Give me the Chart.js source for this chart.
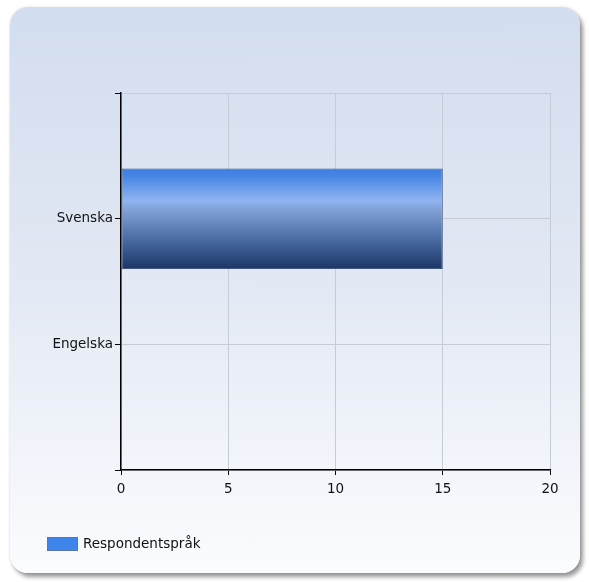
<!DOCTYPE html>
<html>
<head>
<meta charset="utf-8">
<script src="https://cdn.jsdelivr.net/npm/chart.js@4/dist/chart.umd.min.js"></script>
<style>
  html, body { margin: 0; padding: 0; background: #fff; }
  #wrap { position: relative; width: 589px; height: 582px; overflow: hidden; }
  #panel {
    position: absolute; left: 10px; top: 7px; width: 570px; height: 566px;
    border-radius: 18px;
    background: linear-gradient(to bottom, #d2ddef 0%, #e3e9f4 50%, #fbfcfe 100%);
    box-shadow: 3px 4px 4px rgba(0, 0, 0, 0.4), 0 0 3px rgba(0, 0, 0, 0.12);
  }
  canvas { position: absolute; left: 0; top: 0; }
</style>
</head>
<body>
<div id="wrap">
  <div id="panel"></div>
  <canvas id="c" width="589" height="582"></canvas>
</div>
<script>
const categories = ["Svenska", "Engelska"];
const values = [15, 0];
const seriesLabel = "Respondentspråk";
const xTicks = [0, 5, 10, 15, 20];

const FONT = "'DejaVu Sans', Verdana, sans-serif";
const FONT_SIZE = 13.5;
const BAR_PCT = 0.8;

// empty slots above and below so the two categories sit on the inner ticks
const labels = ["", ...categories, ""];
const data = [null, ...values, null];

function barGradient(c) {
  const chart = c.chart;
  const ys = chart.scales.y;
  if (!chart.chartArea || !ys) return "#3d80e2";
  const step = ys.getPixelForValue(1) - ys.getPixelForValue(0);
  const mid = ys.getPixelForValue(c.dataIndex);
  const half = step * BAR_PCT / 2;
  const g = chart.ctx.createLinearGradient(0, mid - half, 0, mid + half);
  g.addColorStop(0, "#3a7ddf");
  g.addColorStop(0.08, "#4886e5");
  g.addColorStop(0.32, "#8fb4ef");
  g.addColorStop(0.42, "#7f9fd5");
  g.addColorStop(0.7, "#4b6ca4");
  g.addColorStop(1, "#1b3666");
  return g;
}

const legendPlugin = {
  id: "boxLegend",
  afterDraw(chart) {
    const ctx = chart.ctx;
    const ds = chart.data.datasets[0];
    ctx.save();
    ctx.fillStyle = "#3d85ea";
    ctx.fillRect(47.5, 537.5, 30, 13);
    ctx.strokeStyle = "#5878ad";
    ctx.lineWidth = 1;
    ctx.strokeRect(47.5, 537.5, 30, 13);
    ctx.fillStyle = "#111";
    ctx.font = FONT_SIZE + "px " + FONT;
    ctx.textBaseline = "middle";
    ctx.fillText(ds.label, 83, 544);
    ctx.restore();
  }
};

new Chart(document.getElementById("c"), {
  type: "bar",
  data: {
    labels,
    datasets: [{
      label: seriesLabel,
      data,
      backgroundColor: barGradient,
      borderColor: "rgba(35, 60, 105, 0.85)",
      borderWidth: 1,
      borderSkipped: false,
      categoryPercentage: BAR_PCT,
      barPercentage: 1
    }]
  },
  options: {
    indexAxis: "y",
    responsive: false,
    animation: false,
    events: [],
    layout: { padding: { left: 0, top: 93, right: 39, bottom: 0 } },
    plugins: { legend: { display: false }, tooltip: { enabled: false } },
    scales: {
      x: {
        type: "linear",
        min: 0,
        max: 20,
        afterBuildTicks: (s) => { s.ticks = xTicks.map(v => ({ value: v })); },
        afterFit: (s) => { s.height = 112; },
        border: { color: "#000", width: 1.5 },
        grid: { color: "#c6ccd6", lineWidth: 1, tickColor: "#000", tickLength: 5 },
        ticks: { color: "#111", font: { family: FONT, size: FONT_SIZE }, padding: 6, maxRotation: 0 }
      },
      y: {
        offset: false,
        afterFit: (s) => { s.width = 121; },
        border: { color: "#000", width: 1.5 },
        grid: { offset: false, color: "#c6ccd6", lineWidth: 1, tickColor: "#000", tickLength: 6 },
        ticks: { color: "#111", font: { family: FONT, size: FONT_SIZE }, padding: 2, autoSkip: false }
      }
    }
  },
  plugins: [legendPlugin]
});
</script>
</body>
</html>
